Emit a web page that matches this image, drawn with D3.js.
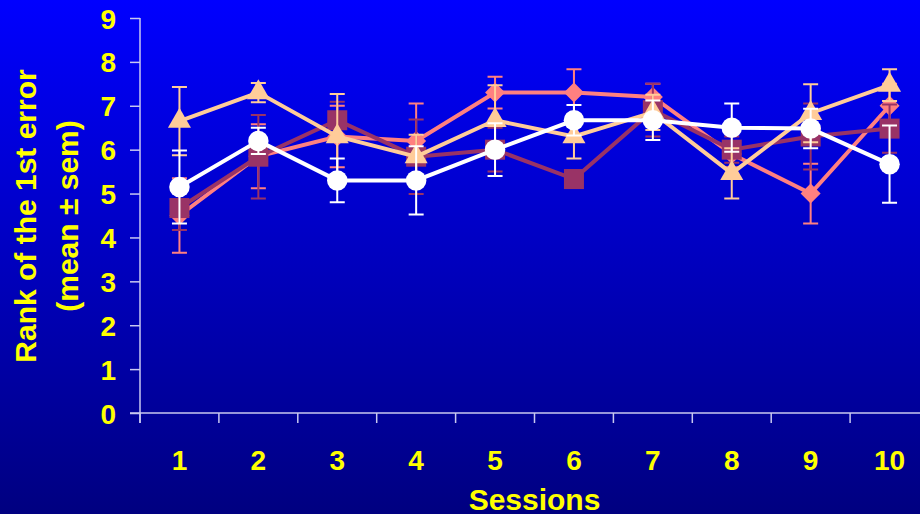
<!DOCTYPE html>
<html>
<head>
<meta charset="utf-8">
<script src="https://cdn.jsdelivr.net/npm/d3@7"></script>
<style>
  body { margin: 0; overflow: hidden; }
  svg text { font-family: "Liberation Sans", Arial, sans-serif; font-weight: bold; fill: #ffff00; }
</style>
</head>
<body>
<div id="chart"></div>
<script>
// data
var sessions = [1, 2, 3, 4, 5, 6, 7, 8, 9, 10];
var yTicks = [0, 1, 2, 3, 4, 5, 6, 7, 8, 9];

var salmonMean = [4.5, 5.85, 6.3, 6.2, 7.3, 7.3, 7.2, 5.9, 5.0, 7.0];
var salmonSem  = [0.85, 0.73, 0.7, 0.85, 0.36, 0.53, 0.3, 0.3, 0.68, 0.5];
var maroonMean = [4.67, 5.84, 6.67, 5.84, 6.0, 5.33, 6.9, 6.0, 6.3, 6.48];
var maroonSem  = [0.5, 0.95, 0.42, 0.85, 0.5, 0.2, 0.6, 0.3, 0.75, 0.55];
var peachMean  = [6.65, 7.3, 6.3, 5.84, 6.67, 6.3, 6.85, 5.46, 6.83, 7.47];
var peachSem   = [0.78, 0.22, 0.97, 0.5, 0.8, 0.5, 0.4, 0.57, 0.66, 0.36];
var whiteMean  = [5.15, 6.2, 5.3, 5.3, 6.0, 6.67, 6.67, 6.5, 6.48, 5.67];
var whiteSem   = [0.83, 0.3, 0.5, 0.78, 0.6, 0.35, 0.45, 0.55, 0.45, 0.88];

var width = 920, height = 514;

var svg = d3.select("#chart")
  .append("svg")
    .attr("width", width)
    .attr("height", height);

// background gradient
var grad = svg.append("defs").append("linearGradient")
    .attr("id", "bg")
    .attr("x1", 0).attr("y1", 0).attr("x2", 0).attr("y2", 1);
grad.append("stop").attr("offset", "0%").attr("stop-color", "#0000ff");
grad.append("stop").attr("offset", "100%").attr("stop-color", "#000080");
svg.append("rect").attr("width", width).attr("height", height).attr("fill", "url(#bg)");

var x = d3.scaleBand()
    .domain(sessions)
    .range([140, 929]);

var y = d3.scaleLinear()
    .domain([0, 9])
    .range([413, 18]);

var axisColor = "#c8c8f0";

// Y axis
var yAxis = svg.append("g")
    .attr("transform", "translate(140,0)")
    .call(d3.axisLeft(y).tickValues(yTicks).tickSize(10).tickPadding(14).tickSizeOuter(0));
yAxis.select(".domain").remove();
yAxis.selectAll("line").attr("stroke", axisColor).attr("stroke-width", 1.5);
yAxis.selectAll("text")
    .attr("fill", "#ffff00")
    .style("font-size", "28px")
    .attr("dy", "0.36em");

svg.append("line")
    .attr("x1", 140).attr("x2", 140)
    .attr("y1", y(9)).attr("y2", y(0) + 10)
    .attr("stroke", axisColor).attr("stroke-width", 1.5);

// X axis
svg.append("line")
    .attr("x1", 130).attr("x2", width)
    .attr("y1", y(0)).attr("y2", y(0))
    .attr("stroke", axisColor).attr("stroke-width", 1.5);

svg.append("g").selectAll("line")
  .data(sessions)
  .enter().append("line")
    .attr("x1", function(d) { return x(d); })
    .attr("x2", function(d) { return x(d); })
    .attr("y1", y(0)).attr("y2", y(0) + 10)
    .attr("stroke", axisColor).attr("stroke-width", 1.5);

svg.append("g").selectAll("text")
  .data(sessions)
  .enter().append("text")
    .attr("x", function(d) { return x(d) + x.bandwidth() / 2; })
    .attr("y", 470)
    .attr("text-anchor", "middle")
    .style("font-size", "28px")
    .text(function(d) { return d; });

svg.append("text")
    .attr("x", (140 + 929) / 2)
    .attr("y", 510)
    .attr("text-anchor", "middle")
    .style("font-size", "30px")
    .text("Sessions");

// Y title (two lines)
svg.append("text")
    .attr("transform", "translate(36,216) rotate(-90)")
    .attr("text-anchor", "middle")
    .style("font-size", "30px")
    .text("Rank of the 1st error");
svg.append("text")
    .attr("transform", "translate(78,216) rotate(-90)")
    .attr("text-anchor", "middle")
    .style("font-size", "30px")
    .text("(mean \u00b1 sem)");

// series, drawn bottom to top
var series = [
  { mean: salmonMean, sem: salmonSem, color: "#ff8080", symbol: d3.symbolSquare, size: 200, rot: 45 },
  { mean: maroonMean, sem: maroonSem, color: "#993366", symbol: d3.symbolSquare, size: 400, rot: 0 },
  { mean: peachMean,  sem: peachSem,  color: "#ffcc99", symbol: d3.symbolTriangle, size: 230, rot: 0 },
  { mean: whiteMean,  sem: whiteSem,  color: "#ffffff", symbol: d3.symbolCircle, size: 330, rot: 0 }
];

var cx = function(i) { return x(sessions[i]) + x.bandwidth() / 2; };
var line = d3.line()
    .x(function(d, i) { return cx(i); })
    .y(function(d) { return y(d); });

series.forEach(function(s) {
  var g = svg.append("g");
  var pts = s.mean.map(function(m, i) { return { i: i, m: m, e: s.sem[i] }; });

  // error bars
  g.selectAll(".err")
    .data(pts)
    .enter().append("path")
      .attr("d", function(d) {
        var c = cx(d.i), t = y(d.m + d.e), b = y(d.m - d.e);
        return "M" + c + "," + t + "V" + b +
               "M" + (c - 7.5) + "," + t + "H" + (c + 7.5) +
               "M" + (c - 7.5) + "," + b + "H" + (c + 7.5);
      })
      .attr("stroke", s.color)
      .attr("stroke-width", 2)
      .attr("fill", "none");

  g.append("path")
    .datum(s.mean)
    .attr("d", line)
    .attr("stroke", s.color)
    .attr("stroke-width", 4)
    .attr("fill", "none");

  g.selectAll(".mk")
    .data(pts)
    .enter().append("path")
      .attr("d", d3.symbol().type(s.symbol).size(s.size))
      .attr("transform", function(d) {
        return "translate(" + cx(d.i) + "," + y(d.m) + ") rotate(" + s.rot + ")";
      })
      .attr("fill", s.color);
});
</script>
</body>
</html>
